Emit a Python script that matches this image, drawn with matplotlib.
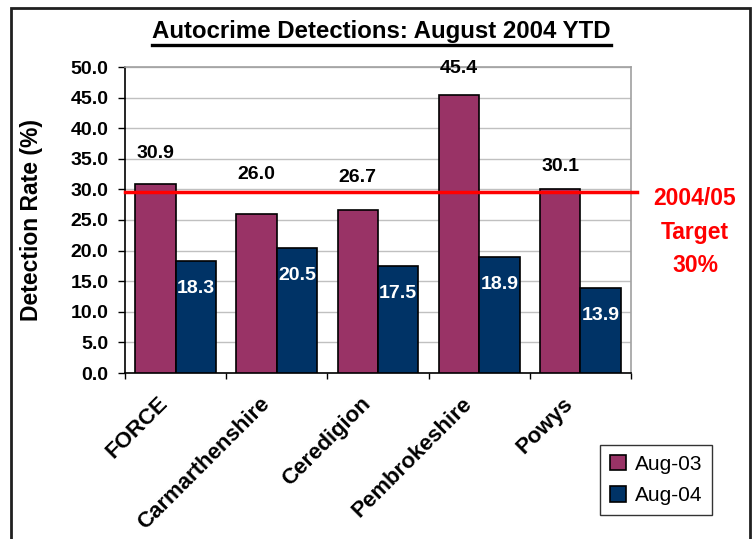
import numpy as np
import matplotlib.pyplot as plt
from matplotlib.patches import Rectangle
from matplotlib.lines import Line2D
from matplotlib.transforms import ScaledTranslation

plt.rcParams['font.family'] = ['Liberation Sans', 'DejaVu Sans']

areas = ['FORCE', 'Carmarthenshire', 'Ceredigion', 'Pembrokeshire', 'Powys']
aug03 = [30.9, 26.0, 26.7, 45.4, 30.1]
aug04 = [18.3, 20.5, 17.5, 18.9, 13.9]
target = 29.5

# label placement (manual, as in the original)
lab03_off = [5.0, 6.4, 5.2, 4.4, 3.6]
lab04_off = -4.5

col03 = '#993366'
col04 = '#003366'

fig = plt.figure(figsize=(7.56, 5.39), dpi=100)
ax = fig.add_axes([125/756, 1 - 373/539, 506/756, 306/539])

x = np.arange(len(areas))
w = 0.4
ax.bar(x - w/2, aug03, w, color=col03, edgecolor='black', lw=1.2, label='Aug-03', zorder=3)
ax.bar(x + w/2, aug04, w, color=col04, edgecolor='black', lw=1.2, label='Aug-04', zorder=3)

for i in range(len(areas)):
    ax.text(x[i] - w/2, aug03[i] + lab03_off[i], f'{aug03[i]:.1f}', ha='center', va='center',
            fontsize=14, fontweight='bold', color='black', zorder=5)
    ax.text(x[i] + w/2, aug04[i] + lab04_off, f'{aug04[i]:.1f}', ha='center', va='center',
            fontsize=14, fontweight='bold', color='white', zorder=5)

ax.plot([-0.5, 4.56], [target, target], color='#ff0000', lw=2.5, clip_on=False, zorder=4)

ax.set_xlim(-0.5, 4.5)
ax.set_ylim(0, 50)
ax.set_yticks(np.arange(0, 50.1, 5))
ax.set_yticklabels([f'{v:.1f}' for v in np.arange(0, 50.1, 5)], fontsize=14, fontweight='bold')
ax.yaxis.grid(True, color='#c0c0c0', lw=1, zorder=0)
ax.set_axisbelow(True)

# category labels drawn by hand so they can be nudged left like Excel does
ax.set_xticks(np.arange(-0.5, 4.6, 1))
ax.set_xticklabels([])
ax.tick_params(axis='x', length=4, width=1, direction='out')
lab_tr = ax.transData + ScaledTranslation(-18/100, -20/100, fig.dpi_scale_trans)
for i, name in enumerate(areas):
    ax.text(x[i], 0, name, transform=lab_tr, rotation=45, ha='right', va='top',
            rotation_mode='anchor', fontsize=16, fontweight='bold', clip_on=False)
ax.tick_params(axis='y', length=5, width=1, direction='out', pad=7)

for s in ['top', 'right']:
    ax.spines[s].set_color('#a0a0a0')
    ax.spines[s].set_linewidth(1.2)
for s in ['left', 'bottom']:
    ax.spines[s].set_color('black')
    ax.spines[s].set_linewidth(1.2)

ax.set_ylabel('Detection Rate (%)', fontsize=16.5, fontweight='bold')
ax.yaxis.set_label_coords(-0.162, 0.5)

# title with underline
title = fig.text(381.7/756, 1 - 38.3/539, 'Autocrime Detections: August 2004 YTD', ha='center',
                 va='baseline', fontsize=17.3, fontweight='bold')
fig.canvas.draw()
bb = title.get_window_extent().transformed(fig.transFigure.inverted())
fig.add_artist(Line2D([bb.x0, bb.x1], [1 - 45/539, 1 - 45/539], color='black', lw=2.4))

fig.text(695/756, 1 - 232/539, '2004/05\nTarget\n30%', ha='center', va='center', color='#ff0000',
         fontsize=16.5, fontweight='bold', linespacing=1.6)

leg = fig.legend(loc='center', bbox_to_anchor=(656/756, 1 - 480/539), fontsize=15,
                 frameon=True, fancybox=False, edgecolor='black', handlelength=0.8,
                 handleheight=0.8, handletextpad=0.4, labelspacing=0.6, borderpad=0.45)
leg.get_frame().set_linewidth(1)

# outer frame
fig.add_artist(Rectangle((11/756, -0.02), (750 - 11)/756, 1.02 - 8/539, fill=False,
                         edgecolor='#202020', lw=2, transform=fig.transFigure))

fig.savefig('out.png', dpi=100)
